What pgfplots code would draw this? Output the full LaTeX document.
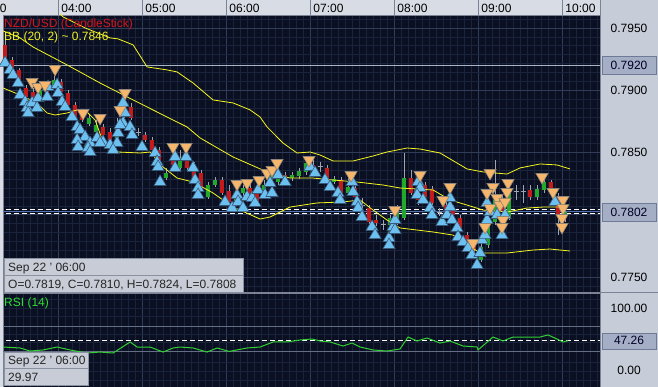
\documentclass[border=0pt]{standalone}
\usepackage{pgfplots}
\pgfplotsset{compat=1.18}
\usepackage{pgfplotstable}
\usepackage{fontspec}
\setmainfont{Liberation Sans}
\newcommand\cf{\fontsize{12}{14}\selectfont}

\definecolor{bgnavy}{HTML}{0A1022}
\definecolor{gridminor}{HTML}{19233B}
\definecolor{gridmajor}{HTML}{303C58}
\definecolor{panel}{HTML}{C6CCD8}
\definecolor{strip}{HTML}{D8DCE4}
\definecolor{stripline}{HTML}{7A8294}
\definecolor{boxfill}{HTML}{C8CCD6}
\definecolor{boxedge}{HTML}{8A92A2}
\definecolor{hlfill}{HTML}{A4AEC4}
\definecolor{hledge}{HTML}{6E7A96}
\definecolor{candred}{HTML}{C41A1A}
\definecolor{candgreen}{HTML}{22A82A}
\definecolor{wick}{HTML}{A0A4AC}
\definecolor{bband}{HTML}{F6F620}
\definecolor{upfill}{HTML}{6CC0F0}
\definecolor{upedge}{HTML}{3A5878}
\definecolor{dnfill}{HTML}{F6B66C}
\definecolor{dnedge}{HTML}{8C8478}
\definecolor{rsigreen}{HTML}{32D032}
\definecolor{lvl}{HTML}{A8B4C8}
\definecolor{lvlrsi}{HTML}{646E84}
\definecolor{midblue}{HTML}{5070B0}
\definecolor{labred}{HTML}{D8141C}
\definecolor{labyellow}{HTML}{F0F028}
\definecolor{labgreen}{HTML}{2EE02E}

\pgfplotstableread{
i h l
-8 0.79404 0.79227
-7 0.79267 0.79163
-6 0.79179 0.79042
-5 0.79042 0.78930
-4 0.79018 0.78890
-3 0.79034 0.78922
-2 0.79066 0.78954
-1 0.79115 0.79018
0 0.79090 0.78962
1 0.79002 0.78866
2 0.78906 0.78769
3 0.78842 0.78745
4 0.78801 0.78713
5 0.78761 0.78649
6 0.78729 0.78625
7 0.78697 0.78560
8 0.78777 0.78576
9 0.78954 0.78777
10 0.78898 0.78761
11 0.78697 0.78633
12 0.78665 0.78584
13 0.78625 0.78504
14 0.78544 0.78400
15 0.78376 0.78279
16 0.78520 0.78376
17 0.78520 0.78360
18 0.78504 0.78360
19 0.78424 0.78279
20 0.78360 0.78207
21 0.78263 0.78127
22 0.78303 0.78223
23 0.78303 0.78159
24 0.78240 0.78080
25 0.78167 0.78070
26 0.78239 0.78151
27 0.78255 0.78119
28 0.78255 0.78078
29 0.78279 0.78135
30 0.78360 0.78215
31 0.78400 0.78239
32 0.78344 0.78255
33 0.78344 0.78271
34 0.78376 0.78287
35 0.78456 0.78319
36 0.78440 0.78344
37 0.78424 0.78344
38 0.78400 0.78239
39 0.78311 0.78247
40 0.78303 0.78159
41 0.78319 0.78159
42 0.78239 0.78119
43 0.78135 0.78038
44 0.78078 0.77926
45 0.77998 0.77910
46 0.77958 0.77878
47 0.77998 0.77894
48 0.78078 0.77918
49 0.78496 0.77958
50 0.78360 0.78159
51 0.78239 0.78078
52 0.78263 0.78119
53 0.78231 0.78070
54 0.78054 0.77990
55 0.78119 0.77998
56 0.78078 0.77974
57 0.77998 0.77878
58 0.77862 0.77757
59 0.77797 0.77693
60 0.77773 0.77621
61 0.77998 0.77733
62 0.78440 0.77918
63 0.78159 0.77998
64 0.78239 0.77958
65 0.78239 0.78119
66 0.78239 0.78095
67 0.78239 0.78119
68 0.78239 0.78119
69 0.78295 0.78175
70 0.78279 0.78151
71 0.78175 0.77837
72 0.78038 0.77942
}\wicks

\pgfplotstableread{
i o c
-8 0.79364 0.79243
-7 0.79243 0.79179
-6 0.79163 0.79058
-5 0.79018 0.78946
-4 0.78986 0.78906
-2 0.79034 0.78970
0 0.79066 0.78986
1 0.78978 0.78882
2 0.78882 0.78785
3 0.78825 0.78761
6 0.78705 0.78641
7 0.78665 0.78576
10 0.78866 0.78777
12 0.78641 0.78601
13 0.78601 0.78520
14 0.78520 0.78416
16 0.78480 0.78400
18 0.78456 0.78376
19 0.78400 0.78295
20 0.78336 0.78223
23 0.78279 0.78175
24 0.78190 0.78100
27 0.78215 0.78135
28 0.78223 0.78103
32 0.78319 0.78279
36 0.78400 0.78360
38 0.78376 0.78255
40 0.78279 0.78175
42 0.78215 0.78143
44 0.78054 0.77942
45 0.77958 0.77934
50 0.78295 0.78175
51 0.78199 0.78119
52 0.78239 0.78143
53 0.78207 0.78095
55 0.78078 0.78022
56 0.78054 0.77998
57 0.77974 0.77894
58 0.77837 0.77773
59 0.77773 0.77717
63 0.78119 0.78022
67 0.78199 0.78143
70 0.78263 0.78175
71 0.78143 0.77998
}\redc

\pgfplotstableread{
i o c
-3 0.78938 0.79002
-1 0.79034 0.79082
4 0.78729 0.78777
5 0.78665 0.78721
8 0.78601 0.78705
9 0.78801 0.78922
15 0.78295 0.78336
17 0.78376 0.78456
21 0.78143 0.78239
22 0.78239 0.78279
25 0.78095 0.78143
26 0.78175 0.78215
29 0.78159 0.78239
30 0.78239 0.78319
31 0.78263 0.78303
33 0.78295 0.78319
34 0.78311 0.78352
35 0.78344 0.78416
39 0.78263 0.78287
41 0.78175 0.78223
47 0.77918 0.77974
48 0.77942 0.78022
49 0.77974 0.78295
60 0.77637 0.77741
61 0.77757 0.77918
62 0.77942 0.78119
64 0.77974 0.78175
68 0.78143 0.78207
69 0.78199 0.78263
72 0.77974 0.78022
}\greenc

\pgfplotstableread{
i c
11 0.78657
37 0.78384
43 0.78078
46 0.77918
54 0.78022
65 0.78183
66 0.78183
}\dojic

\pgfplotstableread{
i p
-8.00 0.79219
-7.29 0.79163
-6.86 0.79123
-6.14 0.79058
-5.86 0.78962
-5.14 0.78906
-4.86 0.78858
-4.14 0.78898
-4.71 0.78817
-3.43 0.78858
-3.29 0.78938
-2.00 0.78946
-1.86 0.79026
-0.57 0.79042
-0.43 0.78978
0.14 0.78906
0.57 0.78866
1.57 0.78785
2.29 0.78705
2.71 0.78681
3.43 0.78625
4.14 0.78576
5.14 0.78617
6.00 0.78584
7.00 0.78560
8.00 0.78576
2.29 0.78601
2.43 0.78544
3.86 0.78536
4.14 0.78504
5.57 0.78576
7.43 0.78520
8.14 0.78657
8.86 0.78898
9.14 0.78817
8.86 0.78737
8.43 0.78721
9.86 0.78705
10.14 0.78641
11.57 0.78544
13.43 0.78496
13.71 0.78424
13.86 0.78384
14.14 0.78263
16.29 0.78464
16.29 0.78376
17.86 0.78464
18.86 0.78376
19.14 0.78279
19.57 0.78215
19.57 0.78159
23.43 0.78103
24.43 0.78054
25.14 0.78159
25.29 0.78103
26.00 0.78054
26.57 0.78143
27.29 0.78135
27.71 0.78095
28.14 0.78199
29.14 0.78159
30.14 0.78175
29.86 0.78255
31.00 0.78319
32.00 0.78263
35.57 0.78384
36.29 0.78336
37.71 0.78279
38.43 0.78223
39.57 0.78175
39.86 0.78119
41.57 0.78263
41.71 0.78183
42.29 0.78103
42.43 0.78054
43.00 0.77982
44.43 0.77902
44.86 0.77837
46.86 0.77813
46.86 0.77757
47.43 0.77902
47.71 0.77958
47.71 0.77878
51.00 0.78263
51.29 0.78215
50.86 0.78159
51.71 0.78119
52.71 0.78054
53.00 0.77998
54.43 0.77942
55.14 0.77998
55.57 0.78062
55.57 0.78135
55.86 0.77958
56.57 0.77894
56.71 0.77821
57.43 0.77781
58.14 0.77733
58.71 0.77677
59.43 0.77597
59.86 0.77693
60.14 0.77797
60.57 0.77837
60.86 0.77958
60.86 0.78095
61.29 0.78022
62.29 0.77998
63.00 0.77837
63.43 0.77998
70.57 0.78103
}\upsig

\pgfplotstableread{
i p
-4.14 0.79066
-3.29 0.79026
-2.29 0.79042
-0.86 0.79171
3.14 0.78817
5.57 0.78777
9.14 0.78978
8.43 0.78842
16.00 0.78544
17.86 0.78544
25.14 0.78247
26.57 0.78255
28.29 0.78279
29.43 0.78336
30.14 0.78360
30.86 0.78416
35.43 0.78440
41.43 0.78319
47.71 0.78038
51.29 0.78319
55.57 0.78223
54.57 0.78119
61.29 0.78336
61.71 0.78223
60.86 0.78175
62.29 0.78135
62.71 0.78078
61.29 0.78054
60.57 0.77902
63.14 0.77958
63.00 0.77902
63.86 0.78255
63.71 0.78183
63.43 0.78103
68.71 0.78303
70.29 0.78183
71.71 0.78119
71.71 0.78054
71.57 0.77974
71.57 0.77902
58.86 0.77773
}\dnsig

\begin{document}
\begin{tikzpicture}[font=\cf]
\fill[strip] (0pt,0pt) rectangle (658pt,-387pt);
\useasboundingbox (0pt,0pt) rectangle (658pt,-387pt);
\fill[panel] (600pt,0pt) rectangle (658pt,-387pt);
\draw[stripline, line width=0.8pt] (600pt,-292.5pt) -- (658pt,-292.5pt);
\foreach \xx in {58.7,142.7,226.7,310.7,394.7,478.7,562.7,600}
  \draw[stripline, line width=0.8pt] (\xx pt,0pt) -- (\xx pt,-15pt);
\begin{scope}
\clip (0pt,0pt) rectangle (58pt,-15pt);
\node[anchor=base west, inner sep=0pt, text=black] at (-23.8pt,-12.5pt) {03:00};
\end{scope}

\begin{axis}[
  at={(3pt,-15pt)}, anchor=north west,
  width=597pt, height=277pt, scale only axis,
  xmin=-8.3, xmax=77.0,
  ymin=0.77380, ymax=0.79604,
  axis background/.style={fill=bgnavy},
  axis line style={draw=stripline, line width=0.8pt},
  xtick={-0.33,11.67,23.67,35.67,47.67,59.67,71.67},
  xticklabels={04:00,05:00,06:00,07:00,08:00,09:00,10:00},
  xticklabel pos=upper,
  xticklabel style={anchor=base west, inner sep=0pt, xshift=2.5pt, yshift=2.5pt, text=black, font=\cf},
  minor xtick={-7.33,-6.33,...,76.67},
  ytick={0.775,0.780,0.785,0.790,0.795},
  yticklabels={0.7750,{},0.7850,0.7900,0.7950},
  minor ytick={0.774286,0.775714,0.776429,0.777143,0.777857,0.778571,0.779286,0.780714,0.781429,0.782143,0.782857,0.783571,0.784286,0.785714,0.786429,0.787143,0.787857,0.788571,0.789286,0.790714,0.791429,0.792143,0.792857,0.793571,0.794286,0.795714},
  yticklabel pos=right,
  yticklabel style={anchor=center, xshift=29pt, inner sep=0pt, text=black, font=\cf},
  major tick length=0pt, minor tick length=0pt,
  grid=both,
  major grid style={draw=gridmajor, line width=0.8pt},
  minor grid style={draw=gridminor, line width=0.6pt},
  extra y ticks={0.7920,0.7802},
  extra y tick labels={0.7920,0.7802},
  extra y tick style={grid=none, yticklabel style={fill=hlfill, draw=hledge, minimum width=54pt, minimum height=18pt, inner sep=0pt, text=black!85!blue}},
]
% level lines
\addplot[lvl, line width=0.8pt, forget plot] coordinates {(-9,0.7920) (78,0.7920)};
\addplot[midblue, line width=0.8pt, forget plot] coordinates {(-9,0.78026) (78,0.78026)};
\addplot[white, line width=0.8pt, dash pattern=on 5pt off 3pt, forget plot] coordinates {(-9,0.78042) (78,0.78042)};
\addplot[white, line width=0.8pt, dash pattern=on 5pt off 3pt, forget plot] coordinates {(-9,0.78010) (78,0.78010)};

% wicks
\addplot[draw=none, mark=none, forget plot,
  error bars/y dir=both, error bars/y explicit, error bars/error mark=none,
  error bars/error bar style={draw=wick, line width=1pt, solid}]
  table[x=i, y expr={(\thisrow{h}+\thisrow{l})/2}, y error expr={(\thisrow{h}-\thisrow{l})/2}] {\wicks};
% bodies
\addplot[draw=none, mark=none, forget plot,
  error bars/y dir=both, error bars/y explicit, error bars/error mark=none,
  error bars/error bar style={draw=candred, line width=4.2pt, solid}]
  table[x=i, y expr={(\thisrow{o}+\thisrow{c})/2}, y error expr={abs(\thisrow{o}-\thisrow{c})/2}] {\redc};
\addplot[draw=none, mark=none, forget plot,
  error bars/y dir=both, error bars/y explicit, error bars/error mark=none,
  error bars/error bar style={draw=candgreen, line width=4.2pt, solid}]
  table[x=i, y expr={(\thisrow{o}+\thisrow{c})/2}, y error expr={abs(\thisrow{o}-\thisrow{c})/2}] {\greenc};
\addplot[only marks, mark=-, mark size=2.5pt, mark options={draw=wick, line width=1pt}, forget plot] table[x=i, y=c] {\dojic};

% Bollinger bands
\addplot[bband, line width=0.8pt, forget plot] coordinates {
(-8.3,0.79950) (-3.0,0.79780) (0.29,0.79588) (3.43,0.79500) (7.0,0.79420) (8.14,0.79412)
(10.29,0.79364) (12.29,0.79187) (15.14,0.79163) (16.57,0.79147) (18.86,0.79058)
(21.71,0.78922) (24.57,0.78898) (27.0,0.78842) (28.43,0.78785) (29.43,0.78705)
(29.86,0.78681) (31.71,0.78576) (33.71,0.78496) (35.57,0.78504) (37.0,0.78480)
(38.86,0.78432) (41.71,0.78432) (44.57,0.78472) (46.57,0.78504) (49.43,0.78536)
(51.29,0.78528) (54.14,0.78496) (58.0,0.78368) (60.29,0.78344) (63.71,0.78327)
(65.57,0.78376) (68.43,0.78408) (70.86,0.78400) (72.71,0.78368)};
\addplot[bband, line width=0.8pt, forget plot] coordinates {
(-8.29,0.79476) (-5.86,0.79420) (-4.0,0.79347) (0.86,0.79203) (5.57,0.79058)
(10.29,0.78922) (15.14,0.78785) (18.0,0.78705) (19.86,0.78617) (24.57,0.78464)
(29.43,0.78344) (32.71,0.78295) (36.0,0.78295) (38.86,0.78279) (42.29,0.78263)
(46.0,0.78239) (48.43,0.78215) (53.14,0.78199) (55.57,0.78119) (58.0,0.78078)
(60.29,0.78038) (63.71,0.78022) (66.57,0.78054) (68.86,0.78062) (71.29,0.78062)};
\addplot[bband, line width=0.8pt, forget plot] coordinates {
(-8.29,0.79018) (-5.86,0.78962) (-3.43,0.78898) (-2.0,0.78817) (-0.86,0.78801)
(0.86,0.78817) (2.29,0.78842) (3.71,0.78825) (4.86,0.78761) (6.0,0.78584)
(7.0,0.78520) (8.14,0.78504) (11.29,0.78496) (12.71,0.78504) (14.57,0.78384)
(16.57,0.78295) (18.86,0.78263) (21.71,0.78175) (24.57,0.78062) (28.43,0.77966)
(29.86,0.77982) (32.71,0.78062) (36.57,0.78095) (40.29,0.78103) (42.71,0.78119)
(44.57,0.78038) (46.57,0.77958) (48.43,0.77894) (53.14,0.77862) (56.0,0.77837)
(59.86,0.77693) (63.71,0.77693) (67.43,0.77717) (69.86,0.77725) (72.71,0.77709)};

% signals
\addplot[only marks, mark=triangle*, mark size=7pt, mark options={fill=upfill, draw=upedge, line width=0.6pt}, forget plot] table[x=i, y=p] {\upsig};
\addplot[only marks, mark=triangle*, mark size=7pt, mark options={rotate=180, fill=dnfill, draw=dnedge, line width=0.6pt}, forget plot] table[x=i, y=p] {\dnsig};
\end{axis}

\begin{axis}[
  at={(3pt,-293pt)}, anchor=north west,
  width=597pt, height=94pt, scale only axis,
  xmin=-8.3, xmax=77.0,
  ymin=-27.4, ymax=124.2,
  axis background/.style={fill=bgnavy},
  axis line style={draw=stripline, line width=0.8pt},
  xtick={-0.33,11.67,23.67,35.67,47.67,59.67,71.67},
  xticklabels={{},{},{},{},{},{},{}},
  minor xtick={-7.33,-6.33,...,76.67},
  ytick={0,100},
  yticklabels={0.00,100.00},
  minor ytick={-16,-2,12,44,58,86,100,114},
  yticklabel pos=right,
  yticklabel style={anchor=center, xshift=29pt, inner sep=0pt, text=black, font=\cf},
  major tick length=0pt, minor tick length=0pt,
  xmajorgrids, xminorgrids, yminorgrids,
  major grid style={draw=gridmajor, line width=0.8pt},
  minor grid style={draw=gridminor, line width=0.6pt},
  extra y ticks={47.26},
  extra y tick labels={47.26},
  extra y tick style={grid=none, yticklabel style={fill=hlfill, draw=hledge, minimum width=54pt, minimum height=16pt, inner sep=0pt, text=black!85!blue}},
]
\addplot[lvlrsi, line width=0.8pt, forget plot] coordinates {(-9,70) (78,70)};
\addplot[lvlrsi, line width=0.8pt, forget plot] coordinates {(-9,30) (78,30)};
\addplot[white, line width=0.8pt, dash pattern=on 5pt off 3pt, forget plot] coordinates {(-9,47.26) (78,47.26)};
\addplot[rsigreen, line width=1pt, forget plot] coordinates {
(-8.29,37.1) (-5.86,35.5) (-4.43,30.6) (-2.57,32.3) (-0.57,37.1) (1.29,32.3)
(3.71,27.4) (5.57,29.0) (7.43,27.4) (9.86,45.2) (10.86,37.1) (12.71,37.1)
(14.57,29.0) (16.0,35.5) (17.0,37.1) (18.86,35.5) (20.86,29.0) (22.29,35.5)
(24.0,29.97) (26.57,35.5) (28.43,37.1) (30.29,45.2) (32.29,45.2) (34.14,48.4)
(35.86,50.0) (37.0,46.8) (38.43,45.2) (40.29,38.7) (41.57,43.5) (42.71,37.1)
(44.57,32.3) (46.57,30.6) (48.43,33.9) (49.57,53.2) (50.86,46.8) (52.29,51.6)
(54.14,43.5) (55.57,46.8) (57.43,38.7) (59.43,37.1) (59.57,32.3) (61.71,53.2)
(63.14,46.8) (64.57,53.2) (67.0,53.2) (68.43,53.2) (69.57,56.5) (70.86,50.0)
(71.71,45.2) (72.43,47.26)};
\end{axis}

% labels
\node[anchor=base west, inner sep=0pt, text=labred] at (4pt,-28pt) {NZD/USD (CandleStick)};
\node[anchor=base west, inner sep=0pt, text=labyellow] at (4pt,-41pt) {BB (20, 2) \textasciitilde{} 0.7846};
\node[anchor=base west, inner sep=0pt, text=labgreen] at (4pt,-306pt) {RSI (14)};

\draw[fill=boxfill, draw=boxedge, line width=0.8pt] (4pt,-258pt) rectangle (243pt,-275pt);
\draw[fill=boxfill, draw=boxedge, line width=0.8pt] (4pt,-275pt) rectangle (243pt,-292pt);
\node[anchor=base west, inner sep=0pt, text=black!85] at (8pt,-271.5pt) {Sep 22 ' 06:00};
\node[anchor=base west, inner sep=0pt, text=black!85] at (8pt,-288pt) {O=0.7819, C=0.7810, H=0.7824, L=0.7808};

\draw[fill=boxfill, draw=boxedge, line width=0.8pt] (4pt,-352pt) rectangle (88pt,-368pt);
\draw[fill=boxfill, draw=boxedge, line width=0.8pt] (4pt,-368pt) rectangle (88pt,-385pt);
\node[anchor=base west, inner sep=0pt, text=black!85] at (8pt,-364.5pt) {Sep 22 ' 06:00};
\node[anchor=base west, inner sep=0pt, text=black!85] at (8pt,-381pt) {29.97};
\end{tikzpicture}
\end{document}
